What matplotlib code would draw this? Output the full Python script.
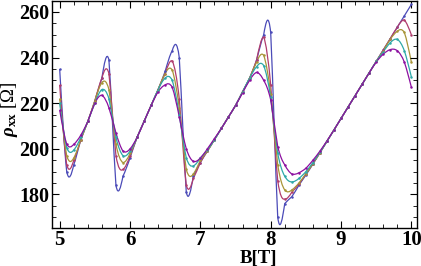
import numpy as np
import matplotlib
matplotlib.use("Agg")
import matplotlib.pyplot as plt
from matplotlib.path import Path
from matplotlib.patches import PathPatch
from matplotlib.ticker import MultipleLocator

# field values (T), one sample every 0.1 T
B = [5.0, 5.1, 5.2, 5.3, 5.4, 5.5, 5.6, 5.7, 5.8, 5.9,
     6.0, 6.1, 6.2, 6.3, 6.4, 6.5, 6.6, 6.7, 6.8, 6.9,
     7.0, 7.1, 7.2, 7.3, 7.4, 7.5, 7.6, 7.7, 7.8, 7.9,
     8.0, 8.1, 8.2, 8.3, 8.4, 8.5, 8.6, 8.7, 8.8, 8.9,
     9.0, 9.1, 9.2, 9.3, 9.4, 9.5, 9.6, 9.7, 9.8, 9.9, 10.0]

rho_blue = [235, 190, 193, 204, 212, 221, 231, 239, 184, 188,
            196, 205, 212, 219, 226, 234, 243, 240, 181, 188,
            194, 199, 204, 209, 214, 219, 225, 231, 239, 250,
            251, 170, 176, 179, 184, 188.5, 193.3, 198.3, 203.3, 208.3,
            213.3, 218.3, 223.3, 228.3, 233.3, 238.3, 243.3, 248.3, 253.3, 258.3, 263.3]

rho_red = [228, 193, 195, 204, 212, 221, 231, 233, 197, 191,
           197, 205, 212, 219, 226, 233, 238.5, 222, 184, 187,
           194, 199, 204, 209, 214, 219, 225, 231, 239, 249,
           228, 186, 178, 181, 184.5, 189, 193.5, 198.3, 203.3, 208.3,
           213.3, 218.3, 223.3, 228.3, 233.3, 238.3, 243.3, 248.3, 253.3, 256.5, 250]

rho_gold = [222, 197, 196, 204, 212, 221, 229, 226, 202, 194,
            198, 205, 212, 219, 226, 233, 234.5, 218, 191, 189,
            195, 199, 204, 209, 214, 219, 225, 231, 238, 241,
            224, 193, 182, 182, 185, 189, 193.5, 198.3, 203.3, 208.3,
            213.3, 218.3, 223.3, 228.3, 233.3, 238.3, 243, 248, 251.5, 251, 238]

rho_teal = [220, 200.5, 199.5, 205, 212, 220, 226, 222, 205, 197,
            199, 205, 212, 219, 226, 231, 230, 215, 196, 192.5,
            196, 199.5, 204, 209, 214, 219, 225, 231, 236, 236.5,
            222.5, 198, 188, 185.5, 187, 190, 194, 198.5, 203.3, 208.3,
            213.3, 218.3, 223.3, 228.3, 233.3, 238.3, 242.5, 246.5, 248, 243, 231.5]

rho_purple = [217, 202, 202, 206, 212, 220, 223.5, 218, 207, 199,
              200, 205, 212, 219, 225, 228, 227, 214, 200, 194.5,
              196, 200, 204.5, 209, 214, 219, 224.5, 230, 233.5, 230,
              221.5, 201, 193, 189, 189.5, 191.5, 195, 199, 203.5, 208.3,
              213.3, 218.3, 223.3, 228.3, 233.3, 238, 241.5, 243.5, 243, 238, 227]

series = [rho_blue, rho_red, rho_gold, rho_teal, rho_purple]
colors = ["#4B4BB8", "#B03C6E", "#A89438", "#2EA8A8", "#8C10A0"]


def smooth_path(x, y):
    # piecewise cubic through the samples, handed to matplotlib as bezier segments
    x = np.asarray(x, float)
    y = np.asarray(y, float)
    yp = np.concatenate([[2 * y[0] - y[1]], y, [2 * y[-1] - y[-2]]])
    verts = [(x[0], y[0])]
    codes = [Path.MOVETO]
    for i in range(len(x) - 1):
        h = x[i + 1] - x[i]
        p0, p1, p2, p3 = yp[i], yp[i + 1], yp[i + 2], yp[i + 3]
        d0 = (-2 * p0 - 3 * p1 + 6 * p2 - p3) / 6
        d1 = (p0 - 6 * p1 + 3 * p2 + 2 * p3) / 6
        verts += [(x[i] + h / 3, p1 + d0 / 3), (x[i] + 2 * h / 3, p2 - d1 / 3), (x[i + 1], p2)]
        codes += [Path.CURVE4] * 3
    return Path(verts, codes)


plt.rcParams["font.family"] = "Liberation Serif"
plt.rcParams["font.weight"] = "bold"
plt.rcParams["mathtext.fontset"] = "custom"
plt.rcParams["mathtext.rm"] = "Liberation Serif:bold"
plt.rcParams["mathtext.it"] = "Liberation Serif:italic:bold"
plt.rcParams["mathtext.bf"] = "Liberation Serif:bold"

fig = plt.figure(figsize=(4.21, 2.66), dpi=100)
ax = fig.add_axes([0.1242, 0.1447, 0.8663, 0.8515])

for y, c in zip(series, colors):
    ax.add_patch(PathPatch(smooth_path(B, y), facecolor="none", edgecolor=c, lw=0.9))
    ax.plot(B, y, "o", ms=1.8, color=c, mew=0)

ax.set_xlim(4.895, 10.08)
ax.set_ylim(165.5, 264.8)
ax.xaxis.set_major_locator(MultipleLocator(1))
ax.xaxis.set_minor_locator(MultipleLocator(0.2))
ax.yaxis.set_major_locator(MultipleLocator(20))
ax.yaxis.set_minor_locator(MultipleLocator(5))
ax.tick_params(which="both", direction="in", top=True, right=True, labelsize=15, pad=2)
ax.tick_params(axis="y", labelsize=14.5)
ax.tick_params(which="major", length=5, width=0.8)
ax.tick_params(which="minor", length=3, width=0.6)
for s in ax.spines.values():
    s.set_linewidth(1.0)

ax.set_xlabel("B[T]", fontsize=13.5, fontweight="bold")
ax.xaxis.set_label_coords(0.564, -0.099)
ax.set_ylabel(r"$\rho_{\mathrm{xx}}$" + " [Ω]", fontsize=13.5)
ax.yaxis.set_label_coords(-0.089, 0.52)

fig.savefig("out.png", dpi=100)
